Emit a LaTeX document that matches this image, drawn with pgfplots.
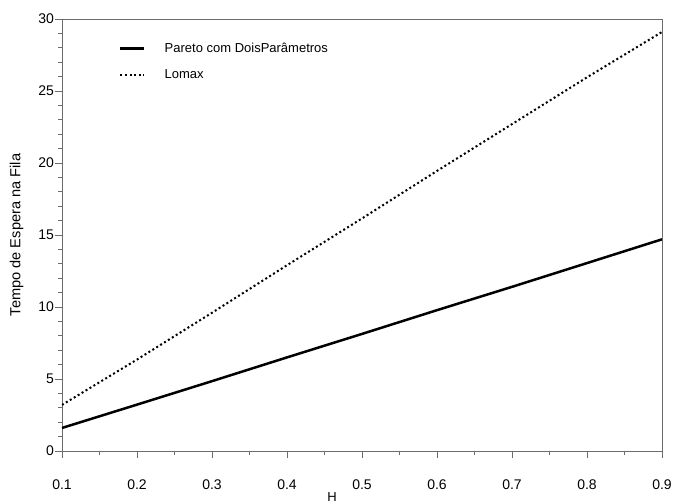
\documentclass[border=0pt]{standalone}
\usepackage{fontspec}
\setmainfont{Liberation Sans}
\usepackage{pgfplots}
\pgfplotsset{compat=1.18}
\begin{document}
\begin{tikzpicture}[x=1pt,y=1pt]
\useasboundingbox (-62,-52) rectangle (623,451);
\begin{axis}[
  at={(0pt,0pt)}, anchor=south west,
  scale only axis, width=600pt, height=432pt,
  xmin=0.1, xmax=0.9, ymin=0, ymax=30,
  xtick={0.1,0.2,0.3,0.4,0.5,0.6,0.7,0.8,0.9},
  ytick={0,5,10,15,20,25,30},
  minor x tick num=1, minor y tick num=4,
  tick pos=left, tick align=outside,
  major tick length=6.5pt, minor tick length=4pt,
  axis line style={draw=gray!85!black, line width=0.9pt},
  every tick/.style={draw=gray!85!black, line width=0.9pt},
  font=\fontsize{13}{15}\selectfont,
  tick label style={font=\fontsize{14}{16}\selectfont},
  /pgf/number format/assume math mode=true,
  x tick label style={/pgf/number format/.cd, fixed, precision=1, fixed zerofill, /tikz/.cd, yshift=-19pt},
  y tick label style={xshift=2pt},
  xlabel={H}, ylabel={Tempo de Espera na Fila},
  every axis x label/.style={at={(axis description cs:0.45,-0.106)}, anchor=center},
  every axis y label/.style={at={(axis description cs:-0.0758,0.5)}, rotate=90, anchor=center, font=\fontsize{14.6}{16}\selectfont},
  legend style={draw=none, fill=none, at={(axis description cs:0.09,0.952)}, anchor=north west,
    row sep=14pt, nodes={inner sep=1pt}},
  legend cell align=left,
  legend image code/.code={\draw[#1] (0pt,0pt) -- (24pt,0pt);},
  /tikz/every odd column/.append style={column sep=18pt},
]
\addplot[black, line width=2.5pt] coordinates {
 (0.1,1.6) (0.2,3.22) (0.3,4.85) (0.4,6.5) (0.5,8.13) (0.6,9.78) (0.7,11.4) (0.8,13.05) (0.9,14.7)};
\addlegendentry{Pareto com DoisParâmetros}
\addplot[black, line width=2pt, dash pattern=on 2pt off 2.6pt] coordinates {
 (0.1,3.2) (0.2,6.35) (0.3,9.6) (0.4,12.9) (0.5,16.15) (0.6,19.45) (0.7,22.7) (0.8,25.95) (0.9,29.1)};
\addlegendentry{Lomax}
\end{axis}
\end{tikzpicture}
\end{document}
